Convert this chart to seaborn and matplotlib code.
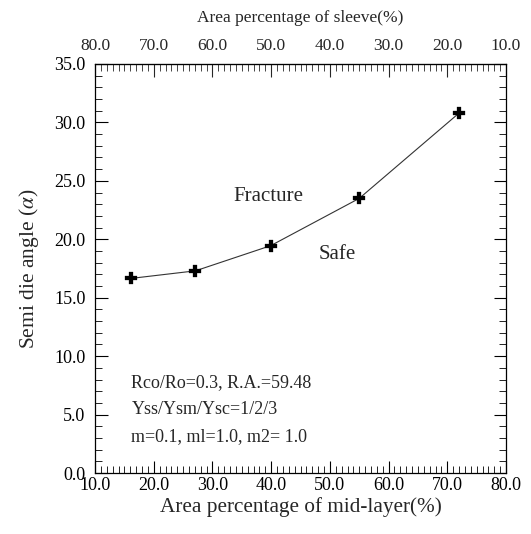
import matplotlib
matplotlib.use("Agg")
import matplotlib.pyplot as plt
from matplotlib.ticker import MultipleLocator, FormatStrFormatter
import seaborn as sns
import pandas as pd

# mid-layer area percentage vs semi die angle
mid_layer = [16.1, 27.1, 39.9, 55.0, 72.0]
semi_angle = [16.65, 17.3, 19.45, 23.5, 30.8]

notes = ["Rco/Ro=0.3, R.A.=59.48", "Yss/Ysm/Ysc=1/2/3", "m=0.1, ml=1.0, m2= 1.0"]

sns.set_style("ticks")
plt.rcParams['font.family'] = ['Liberation Serif', 'DejaVu Serif']
plt.rcParams['mathtext.fontset'] = 'stix'

df = pd.DataFrame({"x": mid_layer, "y": semi_angle})

fig = plt.figure(figsize=(5.31, 5.34), dpi=100)
ax = fig.add_axes([0.179, 0.1142, 0.774, 0.766])

sns.lineplot(data=df, x="x", y="y", ax=ax, color="#333333", linewidth=0.8)
sns.scatterplot(data=df, x="x", y="y", ax=ax, marker="P", s=65, color="black",
                edgecolor="black", linewidth=0.2, zorder=5)

ax.set_xlim(10, 80)
ax.set_ylim(0, 35)
ax.xaxis.set_major_locator(MultipleLocator(10))
ax.xaxis.set_minor_locator(MultipleLocator(1))
ax.yaxis.set_major_locator(MultipleLocator(5))
ax.yaxis.set_minor_locator(MultipleLocator(1))
ax.xaxis.set_major_formatter(FormatStrFormatter("%.1f"))
ax.yaxis.set_major_formatter(FormatStrFormatter("%.1f"))
ax.tick_params(which="both", direction="in", right=True, top=False, labelsize=13, colors="black")
ax.tick_params(which="major", length=9, width=0.8)
ax.tick_params(which="minor", length=5, width=0.6)
ax.tick_params(axis="y", pad=7)
ax.tick_params(axis="x", pad=3)
for s in ax.spines.values():
    s.set_linewidth(0.9)
    s.set_color("black")

ax.set_xlabel("Area percentage of mid-layer(%)", fontsize=15.3, labelpad=2)
ax.set_ylabel(r"Semi die angle ($\alpha$)", fontsize=15.5, labelpad=9)

top = ax.secondary_xaxis("top", functions=(lambda v: 90 - v, lambda v: 90 - v))
top.xaxis.set_major_locator(MultipleLocator(10))
top.xaxis.set_minor_locator(MultipleLocator(1))
top.xaxis.set_major_formatter(FormatStrFormatter("%.1f"))
top.tick_params(which="both", direction="in", labelsize=12.5)
top.tick_params(which="major", length=9, width=0.8, pad=7)
top.tick_params(which="minor", length=5, width=0.6)
top.set_xlabel("Area percentage of sleeve(%)", fontsize=12.5, labelpad=12)

ax.text(39.5, 23.7, "Fracture", fontsize=15, ha="center", va="center")
ax.text(51.2, 18.7, "Safe", fontsize=15, ha="center", va="center")
for i, t in enumerate(notes):
    ax.text(16.2, 7.7 - 2.3 * i, t, fontsize=13, ha="left", va="center")

fig.savefig("out.png", dpi=100)
